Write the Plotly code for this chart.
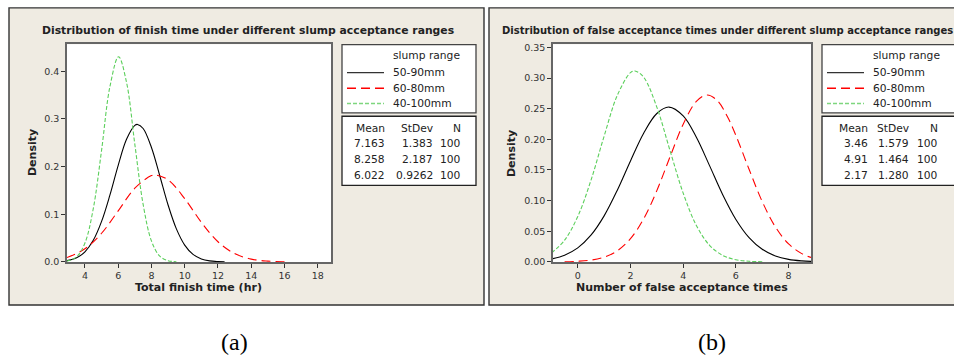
import plotly.graph_objects as go

W, H = 954, 362

series_names = ["50-90mm", "60-80mm", "40-100mm"]
series_colors = ["#000000", "#ff0000", "#5ccf5c"]
series_dash = ["solid", "9px,5px", "4px,2px"]

# Panel (a): Total finish time (hr) vs density
a_x_black = [2.9, 3.5, 4, 4.5, 5, 5.5, 6, 6.5, 7, 7.163, 7.5, 8, 8.5, 9, 9.5, 10, 10.5, 11, 11.5, 12, 12.4]
a_y_black = [0.0025, 0.0086, 0.0211, 0.0452, 0.0849, 0.140, 0.2026, 0.2572, 0.2865, 0.2885, 0.2800, 0.2402,
             0.1808, 0.1194, 0.0692, 0.0352, 0.0157, 0.0062, 0.0021, 0.0006, 0.0002]
a_x_red = [2.9, 3, 4, 5, 6, 7, 8, 8.258, 9, 10, 11, 12, 13, 14, 15, 16, 16.3]
a_y_red = [0.0091, 0.0101, 0.0274, 0.0601, 0.1071, 0.1546, 0.1811, 0.1824, 0.1722, 0.1328, 0.0831, 0.0422,
           0.0174, 0.0058, 0.0016, 0.0003, 0.0002]
a_x_green = [2.9, 3.5, 4, 4.5, 5, 5.5, 6.022, 6.5, 7, 7.5, 8, 8.5, 9, 9.5]
a_y_green = [0.0015, 0.0106, 0.0398, 0.1116, 0.2343, 0.3675, 0.4307, 0.3770, 0.2467, 0.1206, 0.0440, 0.0120,
             0.0025, 0.0004]

# Panel (b): Number of false acceptance times vs density
b_x_black = [-1, -0.5, 0, 0.5, 1, 1.5, 2, 2.5, 3, 3.46, 4, 4.5, 5, 5.5, 6, 6.5, 7, 7.5, 8, 8.5, 8.9]
b_y_black = [0.0047, 0.0109, 0.0229, 0.0436, 0.0751, 0.1170, 0.1648, 0.2101, 0.2422, 0.2527, 0.2383, 0.2034,
             0.1571, 0.1097, 0.0693, 0.0396, 0.0205, 0.0096, 0.0041, 0.0016, 0.0007]
b_x_red = [-0.5, 0, 0.5, 1, 1.5, 2, 2.5, 3, 3.5, 4, 4.5, 4.91, 5.3, 5.7, 6, 6.5, 7, 7.5, 8, 8.5, 8.9]
b_y_red = [0.0003, 0.0010, 0.0029, 0.0077, 0.0181, 0.0378, 0.0703, 0.1163, 0.1714, 0.2246, 0.2620, 0.2725,
           0.2630, 0.2352, 0.2065, 0.1511, 0.0984, 0.0570, 0.0294, 0.0135, 0.0066]
b_x_green = [-1, -0.5, 0, 0.5, 1, 1.5, 2, 2.17, 2.5, 3, 3.5, 4, 4.5, 5, 5.5, 6, 6.5, 7]
b_y_green = [0.0145, 0.0354, 0.0741, 0.1331, 0.2053, 0.2718, 0.3090, 0.3117, 0.3015, 0.2526, 0.1817, 0.1122,
             0.0595, 0.0271, 0.0106, 0.0035, 0.0010, 0.0002]

# Summary tables
stats_header = ["Mean", "StDev", "N"]
a_mean = ["7.163", "8.258", "6.022"]
a_stdev = ["1.383", "2.187", "0.9262"]
a_n = ["100", "100", "100"]
b_mean = ["3.46", "4.91", "2.17"]
b_stdev = ["1.579", "1.464", "1.280"]
b_n = ["100", "100", "100"]

legend_title = "slump range"
title_a = "Distribution of finish time under different slump acceptance ranges"
title_b = "Distribution of false acceptance times under different slump acceptance ranges"
xlabel_a = "Total finish time (hr)"
xlabel_b = "Number of false acceptance times"
ylabel = "Density"
a_xticks = [4, 6, 8, 10, 12, 14, 16, 18]
a_yticks = [0.0, 0.1, 0.2, 0.3, 0.4]
b_xticks = [0, 2, 4, 6, 8]
b_yticks = [0.00, 0.05, 0.10, 0.15, 0.20, 0.25, 0.30, 0.35]
panel_labels = ["(a)", "(b)"]


def px(x):
    return x / W


def py(y):
    return 1 - y / H


fig = go.Figure()

a_data = [(a_x_black, a_y_black), (a_x_red, a_y_red), (a_x_green, a_y_green)]
b_data = [(b_x_black, b_y_black), (b_x_red, b_y_red), (b_x_green, b_y_green)]

for i, (xs, ys) in enumerate(a_data):
    fig.add_trace(go.Scatter(x=xs, y=ys, mode="lines", name=series_names[i], showlegend=False,
                             line=dict(color=series_colors[i], dash=series_dash[i], width=1.1,
                                       shape="spline", smoothing=1.0),
                             xaxis="x", yaxis="y"))
for i, (xs, ys) in enumerate(b_data):
    fig.add_trace(go.Scatter(x=xs, y=ys, mode="lines", name=series_names[i], showlegend=False,
                             line=dict(color=series_colors[i], dash=series_dash[i], width=1.1,
                                       shape="spline", smoothing=1.0),
                             xaxis="x2", yaxis="y2"))

BG = "#efebe2"
FRAME = "#666666"
TXT = "#222222"
tickfont = dict(family="DejaVu Sans", size=9.5, color="#333333")

common_axis = dict(showgrid=False, zeroline=False, showline=True, linecolor=FRAME, linewidth=1.6,
                   mirror=True, ticks="outside", ticklen=4, tickcolor="#333333", tickwidth=1,
                   tickfont=tickfont, fixedrange=True)

fig.update_layout(
    width=W, height=H, margin=dict(l=0, r=0, t=0, b=0),
    paper_bgcolor="white", plot_bgcolor="white", showlegend=False,
    xaxis=dict(domain=[px(67), px(331)], range=[2.92, 18.8], tickvals=a_xticks, anchor="y", **common_axis),
    yaxis=dict(domain=[py(265), py(43)], range=[0, 0.457], tickvals=a_yticks, tickformat=".1f",
               anchor="x", **common_axis),
    xaxis2=dict(domain=[px(553), px(811)], range=[-0.94, 8.85], tickvals=b_xticks, anchor="y2", **common_axis),
    yaxis2=dict(domain=[py(265), py(43)], range=[0, 0.3554], tickvals=b_yticks, tickformat=".2f",
                anchor="x2", **common_axis),
)

shapes = []
# Panel backgrounds
for (x0, x1) in [(9, 484), (489, 962)]:
    shapes.append(dict(type="rect", xref="paper", yref="paper", x0=px(x0), x1=px(x1), y0=py(309), y1=py(6),
                       fillcolor=BG, line=dict(color="#333333", width=1.4), layer="below"))
# White plotting areas
for (x0, x1) in [(67, 331), (553, 811)]:
    shapes.append(dict(type="rect", xref="paper", yref="paper", x0=px(x0), x1=px(x1), y0=py(265), y1=py(43),
                       fillcolor="white", line=dict(width=0), layer="below"))

annotations = []


def text(x, y, s, size=10, bold=False, xanchor="left", family="DejaVu Sans", color=TXT, angle=0):
    annotations.append(dict(xref="paper", yref="paper", x=px(x), y=py(y), text=("<b>%s</b>" % s) if bold else s,
                            showarrow=False, xanchor=xanchor, yanchor="middle", textangle=angle,
                            font=dict(family=family, size=size, color=color)))


LS = 10.7


def legend_block(box_x0, box_x1, line_x0, line_x1, text_x, mean_r, sd_r, n_r, means, sds, ns):
    shapes.append(dict(type="rect", xref="paper", yref="paper", x0=px(box_x0), x1=px(box_x1),
                       y0=py(113), y1=py(43.5), fillcolor="white", line=dict(color="#444444", width=1.3)))
    shapes.append(dict(type="rect", xref="paper", yref="paper", x0=px(box_x0), x1=px(box_x1),
                       y0=py(187), y1=py(116.5), fillcolor="white", line=dict(color="#222222", width=1.3)))
    text(text_x, 54.5, legend_title, size=LS)
    legend_colors = ["#333333", "#ff0000", "#7ed67e"]
    for i, yy in enumerate([72, 88, 103.5]):
        shapes.append(dict(type="line", xref="paper", yref="paper", x0=px(line_x0), x1=px(line_x1),
                           y0=py(yy), y1=py(yy),
                           line=dict(color=legend_colors[i], dash=series_dash[i], width=1.4)))
        text(text_x, yy, series_names[i], size=LS)
    rows = [128.5, 144.5, 160.7, 176.7]
    text(mean_r, rows[0], stats_header[0], xanchor="right", size=LS)
    text(sd_r, rows[0], stats_header[1], xanchor="right", size=LS)
    text(n_r, rows[0], stats_header[2], xanchor="right", size=LS)
    for i in range(3):
        text(mean_r, rows[i + 1], means[i], xanchor="right", size=LS)
        text(sd_r, rows[i + 1], sds[i], xanchor="right", size=LS)
        text(n_r, rows[i + 1], ns[i], xanchor="right", size=LS)


legend_block(342, 476, 347, 384, 391, 387, 435, 463, a_mean, a_stdev, a_n)
legend_block(822, 962, 827, 864, 871, 870, 911, 940, b_mean, b_stdev, b_n)

# Titles and axis labels
text(247.5, 29, title_a, size=10.8, bold=True, xanchor="center")
text(727, 29, title_b, size=10.0, bold=True, xanchor="center")
text(198, 291, xlabel_a, size=11, bold=True, xanchor="center")
text(682, 291, xlabel_b, size=11, bold=True, xanchor="center")
text(32, 154, ylabel, size=11, bold=True, xanchor="center", angle=-90)
text(511, 154, ylabel, size=11, bold=True, xanchor="center", angle=-90)

# Panel captions
text(234, 347, panel_labels[0], size=24, family="Liberation Serif", xanchor="center", color="#000000")
text(712, 347, panel_labels[1], size=24, family="Liberation Serif", xanchor="center", color="#000000")

fig.update_layout(shapes=shapes, annotations=annotations)
fig.write_html("out.html", config={"displayModeBar": False},
               post_script="document.body.style.margin='0px';document.body.style.overflow='hidden';")
